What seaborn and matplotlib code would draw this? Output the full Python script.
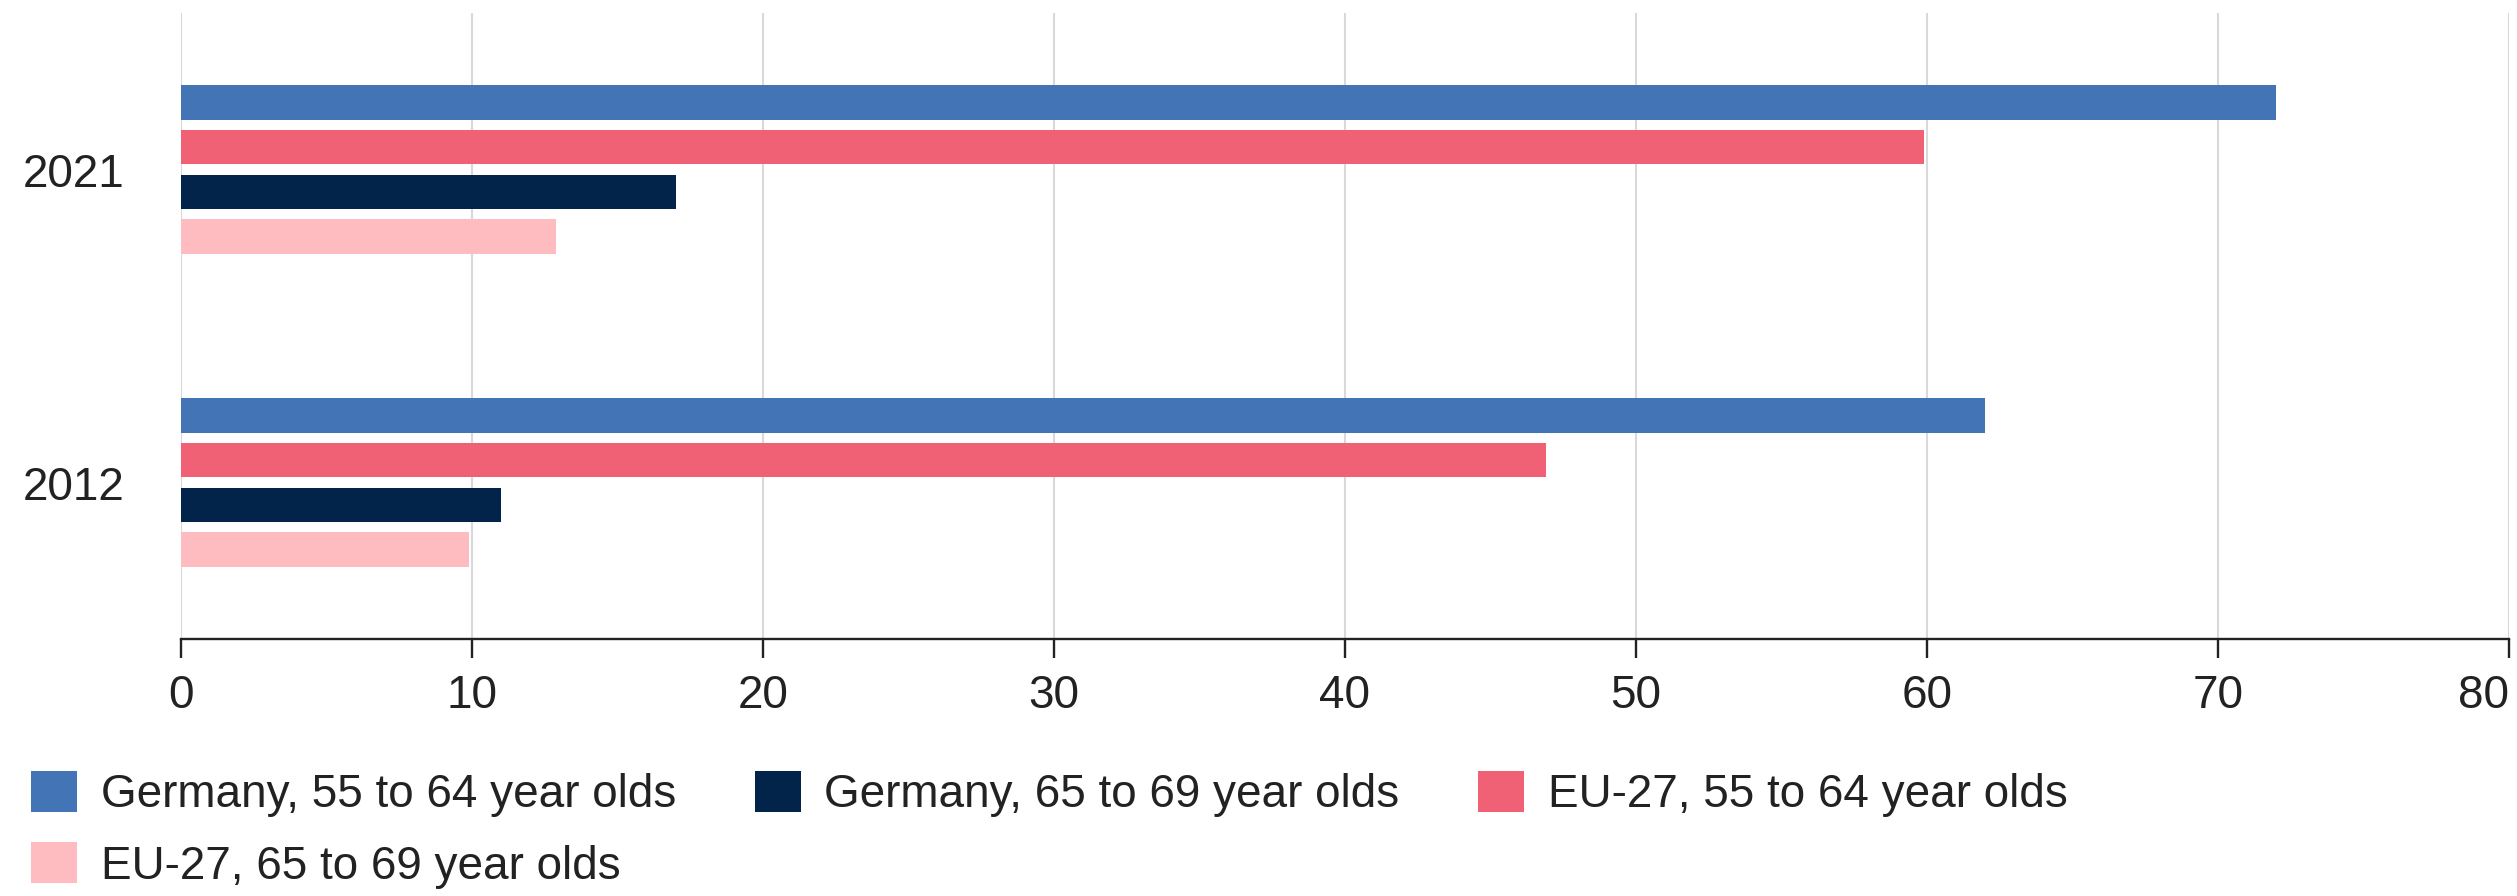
import pandas as pd
import matplotlib.pyplot as plt
import seaborn as sns

# Values (percent)
years = ["2021", "2012"]
germany_55_64 = [72, 62]
germany_65_69 = [17, 11]
eu27_55_64 = [59.9, 46.9]
eu27_65_69 = [12.9, 9.9]

series_names = [
    "Germany, 55 to 64 year olds",
    "Germany, 65 to 69 year olds",
    "EU-27, 55 to 64 year olds",
    "EU-27, 65 to 69 year olds",
]
series_colors = ["#4274B6", "#02234A", "#F06176", "#FEBBC0"]
# bars are stacked in a different order than the legend
bar_order = [series_names[0], series_names[2], series_names[1], series_names[3]]

rows = []
for name, vals in zip(series_names, [germany_55_64, germany_65_69, eu27_55_64, eu27_65_69]):
    for yr, v in zip(years, vals):
        rows.append({"year": yr, "series": name, "value": v})
df = pd.DataFrame(rows)

sns.set_style("white")
plt.rcParams["font.family"] = ["Liberation Sans", "DejaVu Sans"]

fig = plt.figure(figsize=(25.17, 8.96), dpi=100)
ax = fig.add_axes([0.0719, 0.2868, 0.9249, 0.6987])

palette = dict(zip(series_names, series_colors))
sns.barplot(data=df, y="year", x="value", hue="series", order=years,
            hue_order=bar_order, palette=palette, orient="h",
            width=0.572, gap=0.23, linewidth=0, saturation=1, ax=ax, legend=False)

ax.set_xlim(0, 80)
ax.set_ylim(1.5, -0.5)
ax.set_xticks(range(0, 81, 10))
ax.set_xlabel("")
ax.set_ylabel("")
ax.grid(axis="x", color="#d9d9d9", linewidth=1.5)
ax.set_axisbelow(True)
for side in ["top", "right", "left"]:
    ax.spines[side].set_visible(False)
ax.spines["bottom"].set_color("#222222")
ax.spines["bottom"].set_linewidth(1.7)
ax.tick_params(axis="x", bottom=True, length=13.5, width=1.7, color="#222222",
               labelsize=33, pad=12, labelcolor="#222222")
ax.tick_params(axis="y", left=False, labelsize=33, pad=37, labelcolor="#222222")
# keep the last label inside the figure, as in the reference
ax.get_xticklabels()[-1].set_horizontalalignment("right")

# legend filled column-wise: rows read G55, G65, EU55 / EU65
legend_idx = [0, 3, 1, 2]
handles = [plt.Rectangle((0, 0), 1, 1, facecolor=series_colors[i], edgecolor="none") for i in legend_idx]
labels = [series_names[i] for i in legend_idx]
fig.legend(handles, labels, loc="upper left", bbox_to_anchor=(0.0123, 0.1395),
           ncol=3, frameon=False, fontsize=33, handlelength=1.0, handleheight=1.0,
           handletextpad=0.52, columnspacing=1.72, labelspacing=0.55,
           borderpad=0, borderaxespad=0, labelcolor="#222222")

fig.savefig("out.png", dpi=100, facecolor="white")
